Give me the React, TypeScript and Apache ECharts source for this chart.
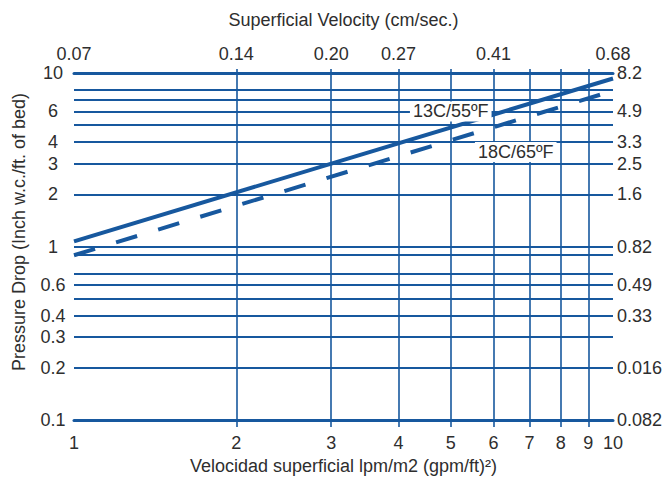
import React, { useEffect, useRef } from "react";
import * as echarts from "echarts";

// ---- data ----
const xLabelValues = [1, 2, 3, 4, 5, 6, 7, 8, 9, 10];
const xGridValues = [2, 3, 4, 5, 6, 7, 8, 9];
const topPositions = [1, 2, 3, 4, 6, 10];
const topLabels = ["0.07", "0.14", "0.20", "0.27", "0.41", "0.68"];
const yLabelValues = [10, 6, 4, 3, 2, 1, 0.6, 0.4, 0.3, 0.2, 0.1];
const yGridValues = [10, 8, 7, 6, 5, 4, 3, 2, 1, 0.9, 0.7, 0.6, 0.5, 0.4, 0.3, 0.2, 0.1];
const rightPositions = [10, 6, 4, 3, 2, 1, 0.6, 0.4, 0.2, 0.1];
const rightLabels = ["8.2", "4.9", "3.3", "2.5", "1.6", "0.82", "0.49", "0.33", "0.016", "0.082"];

const line13Name = "13C/55ºF";
const line13 = [
  [1, 1.07],
  [10, 9.3],
];
const line13LabelAt = [5, 6];

const line18Name = "18C/65ºF";
const line18 = [
  [1, 0.89],
  [10, 7.9],
];
const line18LabelAt = [6.6, 3.5];

const topTitle = "Superficial Velocity (cm/sec.)";
const bottomTitle = "Velocidad superficial lpm/m2 (gpm/ft)²)";
const leftTitle = "Pressure Drop (Inch w.c./ft. of bed)";

// ---- styles ----
const BLUE = "#17589e";
const TEXT = "#2e2e2e";
const FONT = "'Liberation Sans', Arial, sans-serif";
const FS = 18;

function lookup(positions: number[], labels: string[], v: number): string {
  for (let i = 0; i < positions.length; i++) {
    if (Math.abs(v - positions[i]) / positions[i] < 1e-6) return labels[i];
  }
  return "";
}

export default function App() {
  const ref = useRef<HTMLDivElement>(null);

  useEffect(() => {
    if (!ref.current) return;
    const chart = echarts.init(ref.current, undefined, { renderer: "svg" });
    const textStyle = { fontSize: FS, color: TEXT, fontFamily: FONT };

    const option: any = {
      animation: false,
      grid: { left: 74, right: 54, top: 73, bottom: 62 },
      xAxis: [
        {
          type: "log",
          logBase: 10,
          min: 1,
          max: 10,
          position: "bottom",
          name: bottomTitle,
          nameLocation: "middle",
          nameGap: 37,
          nameTextStyle: { ...textStyle },
          axisLine: { show: true, lineStyle: { color: BLUE, width: 3 } },
          axisTick: {
            show: true,
            customValues: xGridValues,
            length: 7,
            lineStyle: { color: BLUE, width: 1.6 },
          },
          axisLabel: {
            customValues: xLabelValues,
            formatter: (v: number) => String(Math.round(v)),
            margin: 14,
            ...textStyle,
          },
          splitLine: { show: true, lineStyle: { color: BLUE, width: 1.6 } },
          minorTick: { show: false },
          minorSplitLine: { show: false },
        },
        {
          type: "log",
          logBase: 10,
          min: 1,
          max: 10,
          position: "top",
          name: topTitle,
          nameLocation: "middle",
          nameGap: 44,
          nameTextStyle: { ...textStyle },
          axisLine: { show: true, lineStyle: { color: BLUE, width: 3 } },
          axisTick: {
            show: true,
            customValues: xGridValues,
            length: 4,
            lineStyle: { color: BLUE, width: 1.6 },
          },
          axisLabel: {
            customValues: topPositions,
            formatter: (v: number) => lookup(topPositions, topLabels, v),
            margin: 10,
            ...textStyle,
          },
          splitLine: { show: false },
        },
      ],
      yAxis: [
        {
          type: "log",
          logBase: 10,
          min: 0.1,
          max: 10,
          position: "left",
          name: leftTitle,
          nameLocation: "middle",
          nameRotate: 90,
          nameGap: 46,
          nameTextStyle: { ...textStyle, padding: [0, 0, 0, 29] },
          axisLine: { show: false },
          axisTick: { show: false, customValues: yGridValues },
          axisLabel: {
            customValues: yLabelValues,
            formatter: (v: number) => lookup(yLabelValues, yLabelValues.map(String), v),
            margin: 21,
            align: "center",
            ...textStyle,
          },
          splitLine: { show: true, lineStyle: { color: BLUE, width: 2 } },
        },
        {
          type: "log",
          logBase: 10,
          min: 0.1,
          max: 10,
          position: "right",
          axisLine: { show: false },
          axisTick: { show: false, customValues: rightPositions },
          axisLabel: {
            customValues: rightPositions,
            formatter: (v: number) => lookup(rightPositions, rightLabels, v),
            margin: 4,
            ...textStyle,
          },
          splitLine: { show: false },
        },
      ],
      series: [
        {
          type: "line",
          name: line13Name,
          xAxisIndex: 0,
          yAxisIndex: 0,
          data: line13,
          showSymbol: false,
          symbol: "none",
          lineStyle: { color: BLUE, width: 4 },
          silent: true,
          markPoint: {
            symbol: "circle",
            symbolSize: 1,
            itemStyle: { color: "rgba(0,0,0,0)" },
            label: {
              show: true,
              position: "inside",
              formatter: "{b}",
              backgroundColor: "#ffffff",
              padding: [1, 3],
              ...textStyle,
            },
            data: [{ name: line13Name, coord: line13LabelAt }],
          },
        },
        {
          type: "line",
          name: line18Name,
          xAxisIndex: 0,
          yAxisIndex: 0,
          data: line18,
          showSymbol: false,
          symbol: "none",
          lineStyle: { color: BLUE, width: 4, type: [22, 22], cap: "butt" },
          silent: true,
          markPoint: {
            symbol: "circle",
            symbolSize: 1,
            itemStyle: { color: "rgba(0,0,0,0)" },
            label: {
              show: true,
              position: "inside",
              formatter: "{b}",
              backgroundColor: "#ffffff",
              padding: [1, 3],
              ...textStyle,
            },
            data: [{ name: line18Name, coord: line18LabelAt }],
          },
        },
      ],
    };

    chart.setOption(option);
    return () => {
      chart.dispose();
    };
  }, []);

  return (
    <div
      ref={ref}
      style={{ position: "fixed", left: 0, top: 0, width: 667, height: 482, background: "#ffffff" }}
    />
  );
}
